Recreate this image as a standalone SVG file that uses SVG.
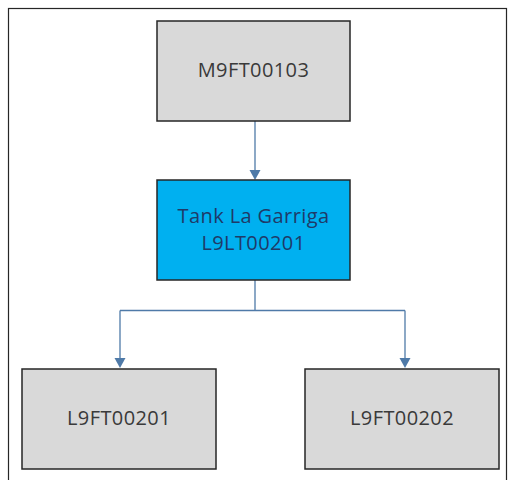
<svg xmlns="http://www.w3.org/2000/svg" width="508" height="480" viewBox="0 0 508 480">
<defs>
<style>
.box{stroke:#262626;stroke-width:1.5}
.gray{fill:#d9d9d9}
.blue{fill:#00b0f0}
.t{font-family:"Open Sans","Liberation Sans",sans-serif;font-size:20px;letter-spacing:0.4px;text-anchor:middle;fill:#3a3a3a}
.tb{fill:#1f3a68}
.c{fill:none;stroke:#4f7aa8;stroke-width:1.3}
.ah{fill:#4f7aa8}
</style>
</defs>
<rect x="0" y="0" width="508" height="480" fill="#ffffff"/>
<rect x="8.5" y="8.5" width="498" height="480" fill="none" stroke="#262626" stroke-width="1.2"/>
<g id="connectors">
<path class="c" d="M255,121 V172"/>
<path class="ah" d="M249.5,170 L260.5,170 L255,180 Z"/>
<path class="c" d="M255,280 V310.5 M120,310.5 H405 M120,310.5 V360"/>
<path class="c" d="M405,310.5 V360"/>
<path class="ah" d="M114.5,358 L125.5,358 L120,368 Z"/>
<path class="ah" d="M399.5,358 L410.5,358 L405,368 Z"/>
</g>
<g id="M9FT00103">
<rect class="box gray" x="157" y="21" width="193" height="100"/>
<text class="t" x="253.5" y="77">M9FT00103</text>
</g>
<g id="L9LT00201">
<rect class="box blue" x="157" y="180" width="193" height="100"/>
<text class="t tb" x="253.5" y="223">Tank La Garriga</text>
<text class="t tb" x="253.5" y="250">L9LT00201</text>
</g>
<g id="L9FT00201">
<rect class="box gray" x="22" y="369" width="194" height="100"/>
<text class="t" x="119" y="425">L9FT00201</text>
</g>
<g id="L9FT00202">
<rect class="box gray" x="305" y="369" width="194" height="100"/>
<text class="t" x="402" y="425">L9FT00202</text>
</g>
</svg>
